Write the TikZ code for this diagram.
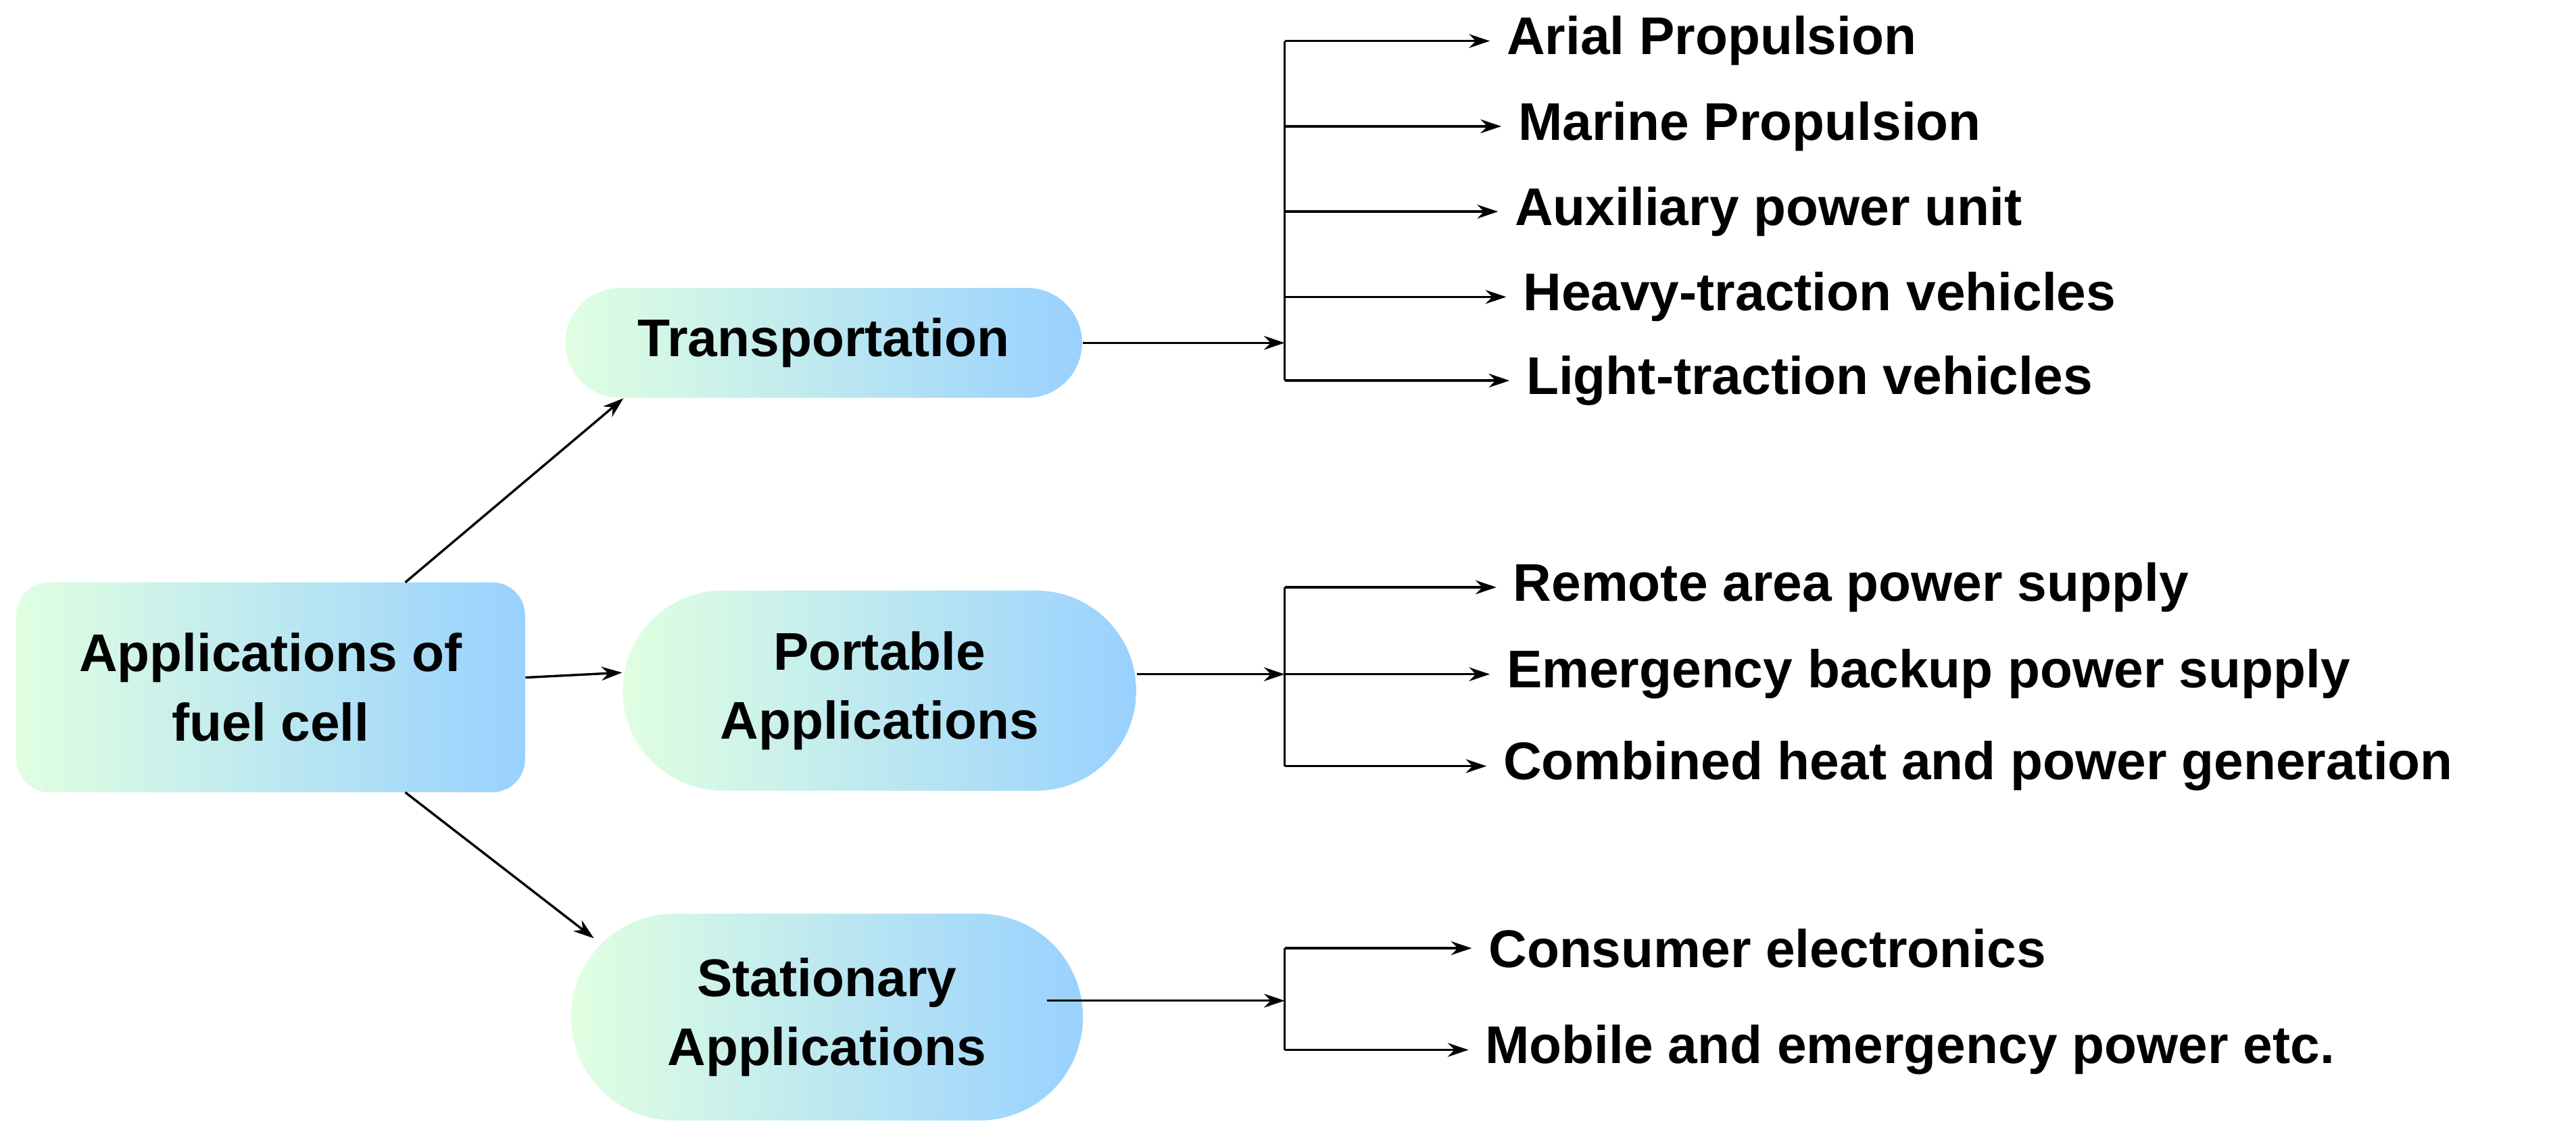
\documentclass[tikz,border=0pt]{standalone}
\usepackage{fontspec}
\setmainfont{Liberation Sans}
\usetikzlibrary{shapes.misc,arrows.meta}
\begin{document}
\begin{tikzpicture}[x=0.025cm,y=-0.025cm,
  box/.style={left color=green!12, right color=blue!45!cyan!40!white, draw=none, align=center, font=\fontsize{23}{30}\selectfont\bfseries, inner sep=0pt},
  leaf/.style={anchor=west, font=\fontsize{23}{28}\selectfont\bfseries, inner sep=0pt},
  arr/.style={-{Stealth[length=9pt,width=6pt]}, line width=1pt},
  ln/.style={line width=1pt}]
\useasboundingbox (0,0) rectangle (1570,691);
\node[box, rounded corners=0.5cm, minimum width=310*0.025cm, minimum height=128*0.025cm] (root) at (165,419) {Applications of\\fuel cell};
\node[box, rounded rectangle, minimum width=315*0.025cm, minimum height=67*0.025cm] (tr) at (502,209) {Transportation};
\node[box, rounded rectangle, minimum width=313*0.025cm, minimum height=122*0.025cm] (po) at (536,421) {Portable\\Applications};
\node[box, rounded rectangle, minimum width=312*0.025cm, minimum height=126*0.025cm] (st) at (504,620) {Stationary\\Applications};
\coordinate (j1) at (783,209);
\coordinate (j2) at (783,411);
\coordinate (j3) at (783,610);
\draw[arr] (247,355) -- (tr.south west -| 380,250);
\draw[arr] (root.east |- 0,413) -- (po.west |- 0,410);
\draw[arr] (247,483) -- (362,572);
\draw[arr] (tr.east) -- (j1);
\draw[arr] (po.east |- j2) -- (j2);
\draw[arr] (638,610) -- (j3);
\node[leaf] (a1) at (918,25) {Arial Propulsion};
\node[leaf] (a2) at (925,77) {Marine Propulsion};
\node[leaf] (a3) at (923,129) {Auxiliary power unit};
\node[leaf] (a4) at (928,181) {Heavy-traction vehicles};
\node[leaf] (a5) at (930,232) {Light-traction vehicles};
\node[leaf] (b1) at (922,358) {Remote area power supply};
\node[leaf] (b2) at (918,411) {Emergency backup power supply};
\node[leaf] (b3) at (916,467) {Combined heat and power generation};
\node[leaf] (c1) at (907,578) {Consumer electronics};
\node[leaf] (c2) at (905,640) {Mobile and emergency power etc.};
\draw[ln] (783,25) -- (783,232);
\draw[ln] (783,358) -- (783,467);
\draw[ln] (783,578) -- (783,640);
\foreach \n/\y in {a1/25,a2/77,a3/129,a4/181,a5/232,b1/358,b2/411,b3/467,c1/578,c2/640}
  \draw[arr] (783,\y) -- ([xshift=-10*0.025cm]\n.west);
\end{tikzpicture}
\end{document}
